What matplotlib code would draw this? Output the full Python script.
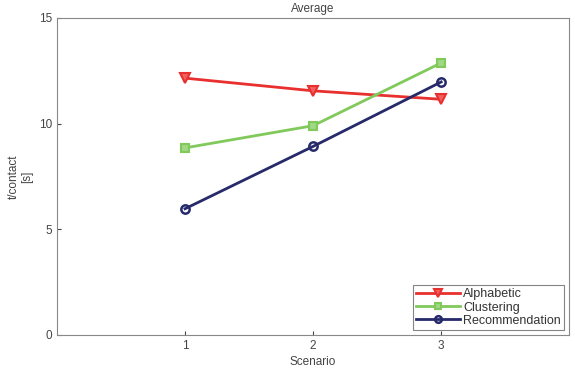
import numpy as np
import matplotlib.pyplot as plt

scenarios = [1, 2, 3]
alphabetic = [12.15, 11.55, 11.15]
clustering = [8.85, 9.9, 12.87]
recommendation = [5.97, 8.92, 11.97]

plt.rcParams['font.family'] = ['Liberation Sans', 'DejaVu Sans']

fig = plt.figure(figsize=(5.75, 3.73), dpi=100)
ax = fig.add_axes([0.099, 0.102, 0.891, 0.850])

ax.plot(scenarios, alphabetic, color='#e8302e', lw=2, marker='v', ms=7,
        mfc='#f06060', mec='#e8302e', mew=1.5, label='Alphabetic')
ax.plot(scenarios, clustering, color='#80c95a', lw=2, marker='s', ms=6,
        mfc='#a0d884', mec='#80c95a', mew=1.5, label='Clustering')
ax.plot(scenarios, recommendation, color='#262a6a', lw=2, marker='o', ms=6,
        mfc='none', mec='#262a6a', mew=1.8, label='Recommendation')

ax.set_xlim(0, 4)
ax.set_ylim(0, 15)
ax.set_xticks(scenarios)
ax.set_yticks([0, 5, 10, 15])
ax.tick_params(direction='in', labelsize=8.5, colors='#444444', length=3)
for s in ax.spines.values():
    s.set_color('#888888')

ax.set_xlabel('Scenario', fontsize=8.5, color='#444444', labelpad=3)
ax.set_ylabel('t/contact\n[s]', fontsize=8.5, color='#444444', labelpad=4)
fig.text(0.544, 0.976, 'Average', fontsize=8.5, color='#444444',
         ha='center', va='center')

leg = ax.legend(loc='lower right', fontsize=9, frameon=True, fancybox=False,
                borderpad=0.25, labelspacing=0.1, handlelength=3.5,
                handletextpad=0.3, markerscale=0.8, borderaxespad=0.4)
leg.get_frame().set_edgecolor('#666666')
leg.get_frame().set_linewidth(0.8)
for t in leg.get_texts():
    t.set_color('#333333')

fig.savefig('out.png', dpi=100)
